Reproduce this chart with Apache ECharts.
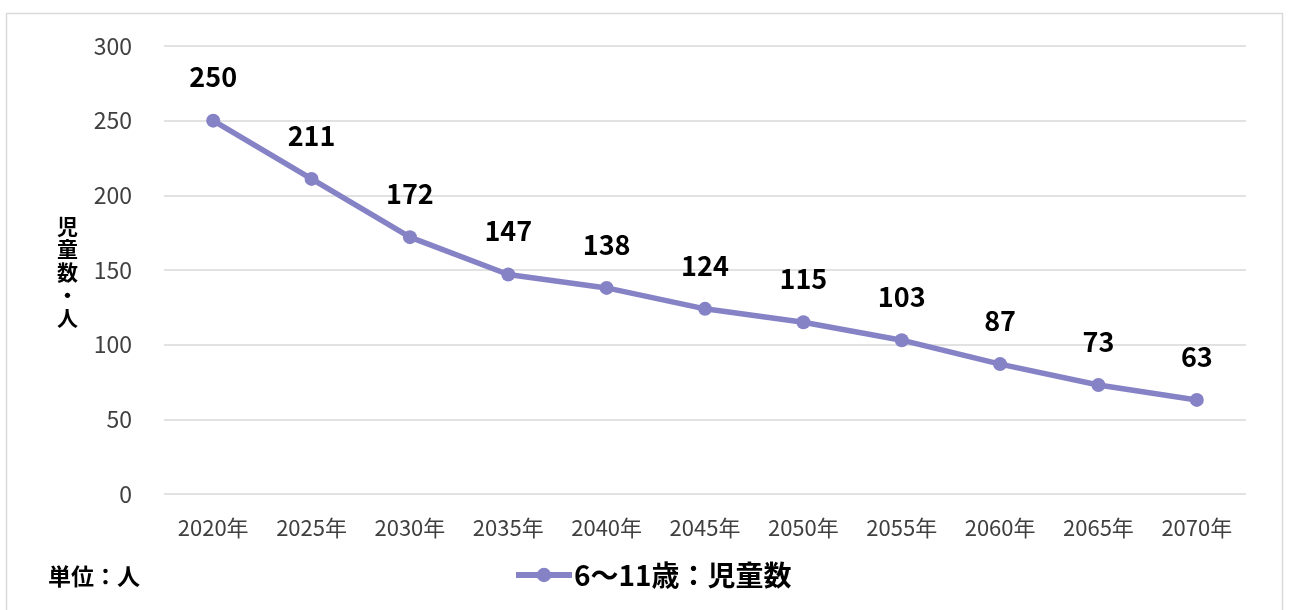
<!DOCTYPE html>
<html>
<head>
<meta charset="utf-8">
<script src="https://cdn.jsdelivr.net/npm/echarts@6/dist/echarts.min.js"></script>
<style>
  html, body { margin: 0; padding: 0; background: #ffffff; }
  #chart { width: 1292px; height: 610px; }
</style>
</head>
<body>
<div id="chart"></div>
<script>
// 6〜11歳の児童数の推移
const years = ['2020年', '2025年', '2030年', '2035年', '2040年', '2045年', '2050年', '2055年', '2060年', '2065年', '2070年'];
const children = [250, 211, 172, 147, 138, 124, 115, 103, 87, 73, 63];
const seriesName = '6〜11歳：児童数';
const yTicks = { min: 0, max: 300, interval: 50 };

const FONT = "'Noto Sans CJK JP', 'Noto Sans', sans-serif";
const LINE_COLOR = '#8682c6';

const chart = echarts.init(document.getElementById('chart'), null, { renderer: 'canvas' });

chart.setOption({
  animation: false,
  backgroundColor: '#ffffff',
  textStyle: { fontFamily: FONT },
  grid: { left: 164, right: 46, top: 46, bottom: 116 },
  legend: {
    data: [seriesName],
    bottom: 16,
    left: 508,
    padding: 5,
    itemWidth: 56,
    itemHeight: 18,
    itemGap: 4,
    lineStyle: { width: 6 },
    textStyle: { fontFamily: FONT, fontSize: 28, fontWeight: 'bold', color: '#000000', padding: [0, 0, 0, -3] }
  },
  xAxis: {
    type: 'category',
    data: years,
    boundaryGap: true,
    axisLine: { show: false },
    axisTick: { show: false },
    axisLabel: { color: '#404040', fontSize: 22, fontFamily: FONT, margin: 23 }
  },
  yAxis: {
    type: 'value',
    min: yTicks.min,
    max: yTicks.max,
    interval: yTicks.interval,
    axisLine: { show: false },
    axisTick: { show: false },
    axisLabel: { color: '#404040', fontSize: 23, fontFamily: FONT, margin: 32 },
    splitLine: { lineStyle: { color: '#d9d9d9', width: 1.5 } }
  },
  series: [{
    name: seriesName,
    type: 'line',
    data: children,
    symbol: 'circle',
    symbolSize: 14,
    lineStyle: { color: LINE_COLOR, width: 5.5 },
    itemStyle: { color: LINE_COLOR },
    label: {
      show: true,
      position: 'top',
      distance: 23,
      color: '#000000',
      fontSize: 27,
      fontWeight: 'bold',
      fontFamily: FONT
    }
  }],
  graphic: [
    {
      type: 'rect',
      shape: { x: 6.5, y: 13.5, width: 1276, height: 610 },
      style: { fill: null, stroke: '#d9d9d9', lineWidth: 1.5 },
      silent: true,
      z: -10
    },
    {
      type: 'text',
      left: 57,
      top: 215,
      style: {
        text: '児\n童\n数\n・\n人',
        fontFamily: FONT,
        fontSize: 21,
        fontWeight: 'bold',
        lineHeight: 23,
        fill: '#000000'
      }
    },
    {
      type: 'text',
      left: 48,
      top: 565,
      style: {
        text: '単位：人',
        fontFamily: FONT,
        fontSize: 23,
        fontWeight: 'bold',
        fill: '#000000'
      }
    }
  ]
});
</script>
</body>
</html>
